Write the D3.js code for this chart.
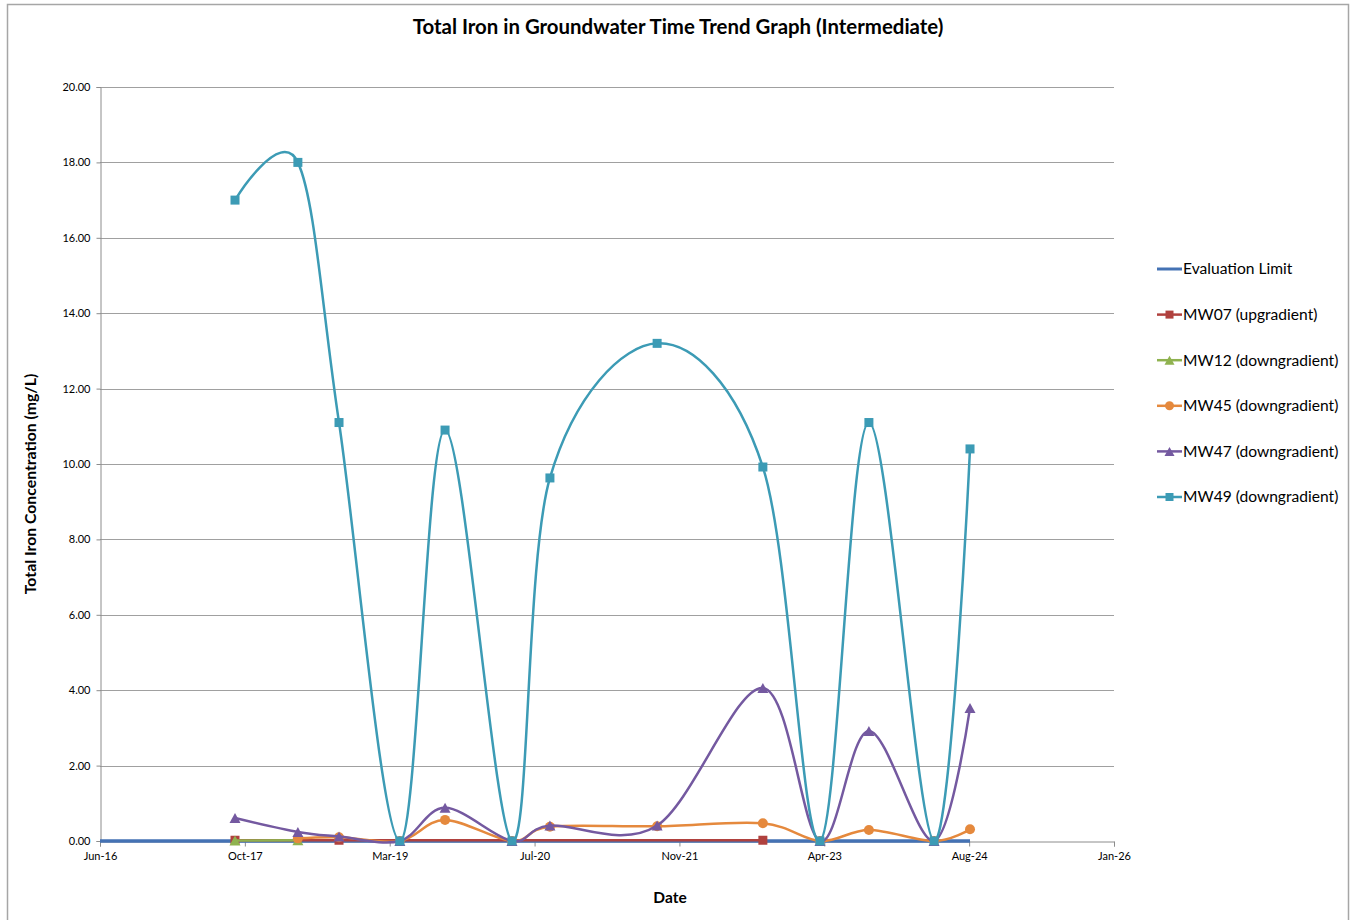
<!DOCTYPE html>
<html>
<head>
<meta charset="utf-8">
<script src="https://cdn.jsdelivr.net/npm/d3@7"></script>
<style>
  html, body { margin: 0; padding: 0; background: #fff; }
  svg text { font-family: Lato, "Open Sans", "DejaVu Sans", sans-serif; fill: #000; }
</style>
</head>
<body>
<svg id="chart" width="1355" height="920"></svg>
<script>
// Sampling dates and total iron concentrations (mg/L)
const evalDates = ["2016-06-06", "2024-08-26"];
const evalValues = [0, 0];

const mw07Dates = ["2017-09-15", "2018-09-09", "2022-09-11"];
const mw07Values = [0.02, 0.02, 0.02];

const mw12Dates = ["2017-09-15", "2018-04-20"];
const mw12Values = [0.01, 0.02];

const mw45Dates = ["2018-04-20", "2018-09-09", "2019-04-07", "2019-09-10", "2020-04-28", "2020-09-06",
                   "2021-09-11", "2022-09-11", "2023-03-27", "2023-09-12", "2024-04-24", "2024-08-26"];
const mw45Values = [0.07, 0.10, 0, 0.56, 0, 0.38, 0.39, 0.47, 0, 0.29, 0, 0.31];

const mw47Dates = ["2017-09-15", "2018-04-20", "2018-09-09", "2019-04-07", "2019-09-10", "2020-04-28",
                   "2020-09-06", "2021-09-11", "2022-09-11", "2023-03-27", "2023-09-12", "2024-04-24", "2024-08-26"];
const mw47Values = [0.61, 0.24, 0.12, 0, 0.88, 0, 0.41, 0.41, 4.06, 0, 2.92, 0, 3.53];

const mw49Dates = ["2017-09-15", "2018-04-20", "2018-09-09", "2019-04-07", "2019-09-10", "2020-04-28",
                   "2020-09-06", "2021-09-11", "2022-09-11", "2023-03-27", "2023-09-12", "2024-04-24", "2024-08-26"];
const mw49Values = [17.0, 18.0, 11.1, 0, 10.9, 0, 9.63, 13.2, 9.92, 0, 11.1, 0, 10.4];

const yTicks = [0, 2, 4, 6, 8, 10, 12, 14, 16, 18, 20];
const xStart = "2016-06-06";
const xStepDays = 500;
const xStepCount = 7;

const seriesNames = ["Evaluation Limit", "MW07 (upgradient)", "MW12 (downgradient)",
                     "MW45 (downgradient)", "MW47 (downgradient)", "MW49 (downgradient)"];

const parse = d3.utcParse("%Y-%m-%d");
const DAY = 86400000;
const t0 = parse(xStart);
const xTickDates = d3.range(xStepCount + 1).map(i => new Date(t0.getTime() + i * xStepDays * DAY));

const series = [
  { name: seriesNames[0], dates: evalDates, values: evalValues, color: "#4472B4", width: 3.5, marker: null },
  { name: seriesNames[1], dates: mw07Dates, values: mw07Values, color: "#B0413E", width: 2.5, marker: "square" },
  { name: seriesNames[2], dates: mw12Dates, values: mw12Values, color: "#8FB24F", width: 2.5, marker: "triangle" },
  { name: seriesNames[3], dates: mw45Dates, values: mw45Values, color: "#E5893D", width: 2.5, marker: "circle" },
  { name: seriesNames[4], dates: mw47Dates, values: mw47Values, color: "#7459A0", width: 2.5, marker: "triangle" },
  { name: seriesNames[5], dates: mw49Dates, values: mw49Values, color: "#3C9BB5", width: 2.5, marker: "square" }
].map(s => ({ ...s, points: s.dates.map((d, i) => ({ date: parse(d), value: s.values[i] })) }));

const svg = d3.select("#chart");

// Chart frame
svg.append("rect")
  .attr("x", 7.5).attr("y", 4.5).attr("width", 1341).attr("height", 930)
  .attr("fill", "#fff").attr("stroke", "#a6a6a6").attr("stroke-width", 1.5);

const plot = { left: 100, right: 1114, top: 87, bottom: 841 };

const x = d3.scaleUtc()
  .domain([t0, xTickDates[xTickDates.length - 1]])
  .range([plot.left, plot.right]);
const y = d3.scaleLinear().domain([0, 20]).range([plot.bottom, plot.top]);

// Horizontal gridlines
svg.append("g").selectAll("line")
  .data(yTicks.filter(v => v > 0))
  .join("line")
  .attr("x1", plot.left).attr("x2", plot.right)
  .attr("y1", d => Math.round(y(d)) + 0.5).attr("y2", d => Math.round(y(d)) + 0.5)
  .attr("stroke", "#a0a0a0").attr("stroke-width", 1);

// Y axis
const yAxis = svg.append("g")
  .attr("transform", `translate(${plot.left + 0.5},0)`)
  .call(d3.axisLeft(y).tickValues(yTicks).tickFormat(d3.format(".2f")).tickSize(4).tickPadding(6));
yAxis.select(".domain").attr("stroke", "#8c8c8c");
yAxis.selectAll(".tick line").attr("stroke", "#8c8c8c");
yAxis.selectAll(".tick text").attr("font-size", 11).attr("font-family", "Lato, 'Open Sans', sans-serif");

// X axis
const xAxis = svg.append("g")
  .attr("transform", `translate(0,${plot.bottom + 0.5})`)
  .call(d3.axisBottom(x).tickValues(xTickDates).tickFormat(d3.utcFormat("%b-%y")).tickSize(5).tickPadding(6));
xAxis.select(".domain").attr("stroke", "#8c8c8c");
xAxis.selectAll(".tick line").attr("stroke", "#8c8c8c");
xAxis.selectAll(".tick text").attr("font-size", 11).attr("font-family", "Lato, 'Open Sans', sans-serif");

// Series lines (smoothed)
const line = d3.line()
  .x(d => x(d.date))
  .y(d => y(d.value))
  .curve(d3.curveCardinal.tension(0));

function drawMarker(g, type, color, size) {
  if (type === "square") {
    g.append("rect").attr("x", -size / 2).attr("y", -size / 2)
      .attr("width", size).attr("height", size).attr("fill", color);
  } else if (type === "circle") {
    g.append("circle").attr("r", size / 2 + 0.5).attr("fill", color);
  } else if (type === "triangle") {
    const h = size + 1;
    g.append("path")
      .attr("d", `M0,${-h / 2}L${h / 2 + 0.5},${h / 2}L${-h / 2 - 0.5},${h / 2}Z`)
      .attr("fill", color);
  }
}

const seriesG = svg.append("g");
series.forEach(s => {
  const g = seriesG.append("g");
  g.append("path")
    .datum(s.points)
    .attr("d", s.marker ? line(s.points) : d3.line().x(d => x(d.date)).y(d => y(d.value))(s.points))
    .attr("fill", "none")
    .attr("stroke", s.color)
    .attr("stroke-width", s.width)
    .attr("stroke-linejoin", "round");
  if (s.marker) {
    s.points.forEach(p => {
      const m = g.append("g").attr("transform", `translate(${x(p.date)},${y(p.value)})`);
      drawMarker(m, s.marker, s.color, 9);
    });
  }
});

// Legend
const legend = svg.append("g");
series.forEach((s, i) => {
  const ly = 269 + i * 45.6;
  const g = legend.append("g").attr("transform", `translate(1157,${ly})`);
  g.append("line").attr("x1", 0).attr("x2", 25).attr("y1", 0).attr("y2", 0)
    .attr("stroke", s.color).attr("stroke-width", s.marker ? 2.5 : 3);
  if (s.marker) {
    const m = g.append("g").attr("transform", "translate(12.5,0)");
    drawMarker(m, s.marker, s.color, 8);
  }
  g.append("text").attr("x", 26).attr("y", 0).attr("dy", "0.35em")
    .attr("font-size", 15.6).text(s.name);
});

// Titles
svg.append("text")
  .attr("x", 678).attr("y", 27).attr("dy", "0.35em")
  .attr("text-anchor", "middle").attr("font-size", 20.4).attr("font-weight", "bold")
  .text("Total Iron in Groundwater Time Trend Graph (Intermediate)");

svg.append("text")
  .attr("x", 670).attr("y", 898).attr("dy", "0.35em")
  .attr("text-anchor", "middle").attr("font-size", 15.5).attr("font-weight", "bold")
  .text("Date");

svg.append("text")
  .attr("transform", "translate(30,484) rotate(-90)")
  .attr("dy", "0.35em")
  .attr("text-anchor", "middle").attr("font-size", 15.8).attr("font-weight", "bold")
  .text("Total Iron Concentration (mg/L)");
</script>
</body>
</html>
